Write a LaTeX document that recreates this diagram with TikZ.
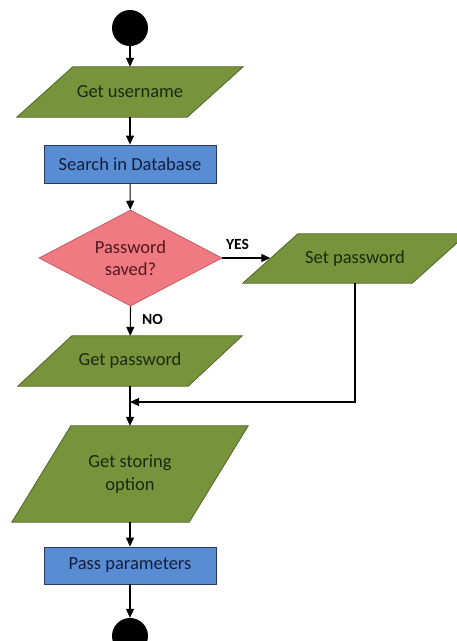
\documentclass[tikz,border=0pt]{standalone}
\usepackage{fontspec}
\setmainfont{Carlito}
\usetikzlibrary{shapes.geometric,arrows.meta,backgrounds}

\definecolor{iogreen}{RGB}{119,147,60}
\definecolor{iogreenline}{RGB}{82,102,42}
\definecolor{iotext}{RGB}{30,40,15}
\definecolor{procblue}{RGB}{88,141,212}
\definecolor{procblueline}{RGB}{38,58,98}
\definecolor{proctext}{RGB}{20,30,60}
\definecolor{decpink}{RGB}{240,122,130}
\definecolor{decpinkline}{RGB}{196,92,102}
\definecolor{dectext}{RGB}{80,25,30}

\tikzset{
  base/.style={font=\fontsize{18.5}{22.5}\selectfont, align=center, inner sep=0pt},
  % text box of an input/output step; its slanted outline is drawn by \ioshape
  iobox/.style={base, rectangle, text=iotext},
  iofill/.style={fill=iogreen, draw=iogreenline, line width=0.8pt},
  procbox/.style={base, rectangle, minimum width=172pt, minimum height=38pt,
    fill=procblue, draw=procblueline, line width=0.8pt, text=proctext},
  decbox/.style={base, diamond, aspect=1.9, minimum width=183pt, minimum height=96pt,
    fill=decpink, draw=decpinkline, line width=0.8pt, text=dectext},
  terminal/.style={circle, fill=black, minimum size=36pt, inner sep=0pt},
  flow/.style={line width=1.1pt, -{Triangle[length=9pt,width=8pt]}},
  branch/.style={font=\bfseries\fontsize{15.5}{18}\selectfont, inner sep=0pt}
}

% parallelogram around node #1, leaning right; #2 = half of the horizontal slant
\newcommand\ioshape[2]{%
  \path[iofill] ([xshift=#2]#1.north west) -- ([xshift=#2]#1.north east)
    -- ([xshift=-#2]#1.south east) -- ([xshift=-#2]#1.south west) -- cycle;}

\begin{document}
\begin{tikzpicture}[x=1pt,y=-1pt]
  \clip (0,0) rectangle (456,641);

  % nodes
  \node[terminal] (start) at (130,28) {};
  \node[iobox, minimum width=170pt, minimum height=50pt] (user) at (130,92) {Get username};
  \node[procbox] (search) at (130,164) {Search in Database};
  \node[decbox] (saved) at (130.5,258) {Password\\saved?};
  \node[iobox, minimum width=169pt, minimum height=49pt] (setpw) at (355,258.5) {Set password};
  \node[iobox, minimum width=170pt, minimum height=50pt] (getpw) at (130,361) {Get password};
  \coordinate (merge) at (130,402);
  \node[iobox, minimum width=177pt, minimum height=96pt] (store) at (130,474) {Get storing\\option};
  \node[procbox, minimum height=37pt] (pass) at (130,565.5) {Pass parameters};
  \node[terminal] (stop) at (130,636) {};

  % slanted outlines behind the input/output texts
  \begin{scope}[on background layer]
    \fill[white] (0,0) rectangle (456,641);
    \ioshape{user}{28pt}
    \ioshape{setpw}{27.5pt}
    \ioshape{getpw}{27pt}
    \ioshape{store}{29.5pt}
  \end{scope}

  % connectors
  \draw[flow] (start) -- (user);
  \draw[flow] (user) -- (search);
  \draw[flow] (search) -- (saved);
  \draw[flow] (saved.east) -- (saved.east -| setpw.west);
  \draw[flow] (saved.south) -- (getpw);
  \draw[flow] (setpw.south) |- (merge);
  \draw[flow] (getpw) -- (store);
  \draw[flow] (store) -- (pass);
  \draw[flow] (pass) -- (stop);

  % branch labels
  \node[branch] (yes) at (237.5,244) {YES};
  \node[branch] (no) at (152.5,319) {NO};
\end{tikzpicture}
\end{document}
